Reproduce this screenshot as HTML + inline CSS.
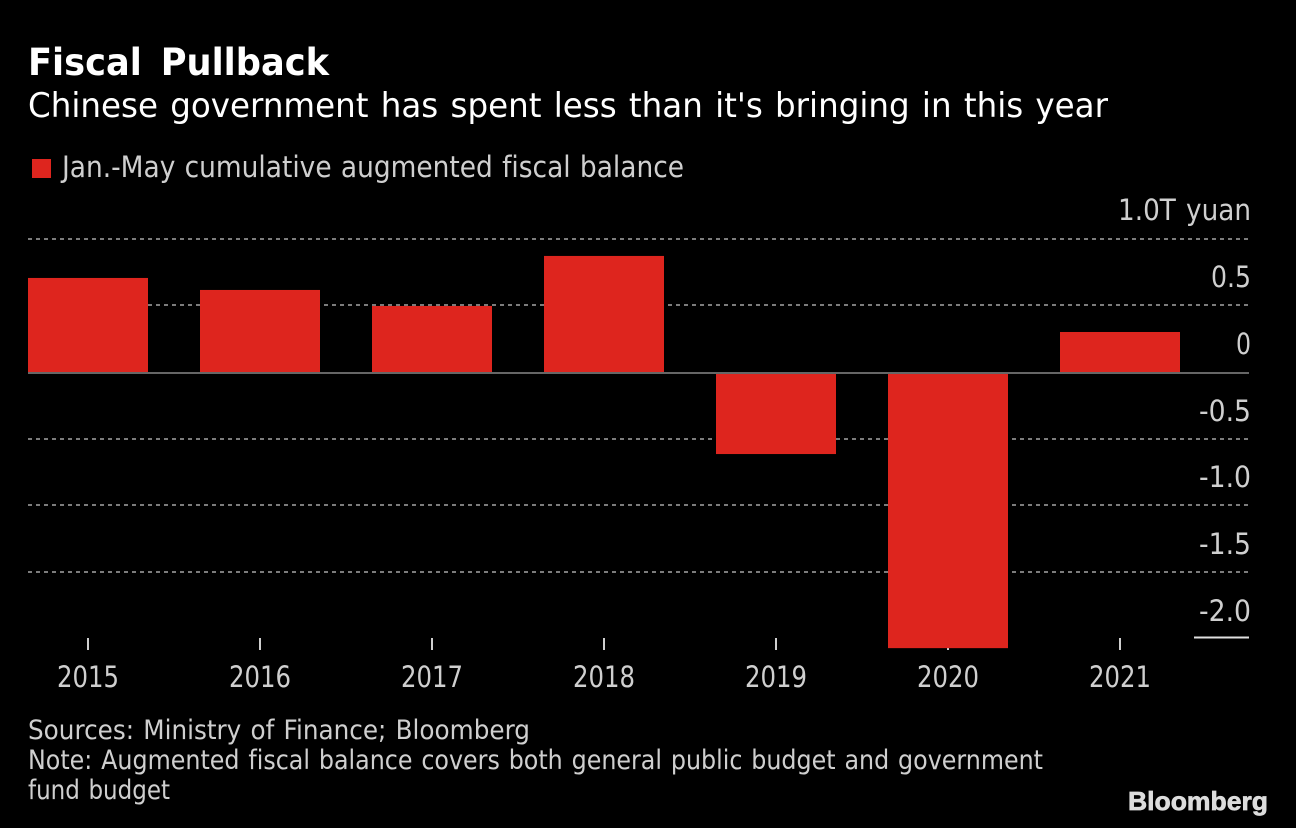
<!DOCTYPE html>
<html lang="en">
<head>
<meta charset="utf-8">
<title>Fiscal Pullback</title>
<style>
html,body{margin:0;padding:0;background:#000;width:1296px;height:828px;overflow:hidden}
svg{display:block}
text{font-family:"DejaVu Sans","Liberation Sans",sans-serif;font-variant-ligatures:none}
</style>
</head>
<body>
<svg id="chart" xmlns="http://www.w3.org/2000/svg" width="1296" height="828" viewBox="0 0 1296 828">
  <rect x="0" y="0" width="1296" height="828" fill="#000"/>
  <text x="28" y="75" font-size="37" font-weight="700" fill="#fff" word-spacing="7" textLength="301" lengthAdjust="spacingAndGlyphs">Fiscal Pullback</text>
  <text x="28" y="117" font-size="34" fill="#fff" word-spacing="2" textLength="1080" lengthAdjust="spacingAndGlyphs">Chinese government has spent less than it's bringing in this year</text>
  <rect x="32" y="159" width="19" height="19" fill="#de251e"/>
  <text x="62" y="177" font-size="29" fill="#cfcfcf" word-spacing="1" textLength="622" lengthAdjust="spacingAndGlyphs">Jan.-May cumulative augmented fiscal balance</text>
  <g id="grid"></g>
  <g id="ticks"></g>
  <g id="bars"></g>
  <g id="axis"></g>
  <g id="labels"></g>
  <text x="28" y="739" font-size="27" fill="#cfcfcf" word-spacing="1.5" textLength="502" lengthAdjust="spacingAndGlyphs">Sources: Ministry of Finance; Bloomberg</text>
  <text x="28" y="769" font-size="27" fill="#cfcfcf" word-spacing="1.5" textLength="1015" lengthAdjust="spacingAndGlyphs">Note: Augmented fiscal balance covers both general public budget and government</text>
  <text x="28" y="799" font-size="27" fill="#cfcfcf" word-spacing="1.5" textLength="142" lengthAdjust="spacingAndGlyphs">fund budget</text>
  <text x="1128" y="810" font-size="26" font-weight="700" fill="#dcdcdc" stroke="#dcdcdc" stroke-width="0.7" style="font-family:'Liberation Sans',sans-serif" textLength="140" lengthAdjust="spacingAndGlyphs">Bloomberg</text>
</svg>
<script>
const categories = ['2015', '2016', '2017', '2018', '2019', '2020', '2021'];
const seriesValues = [0.705, 0.615, 0.495, 0.87, -0.615, -2.07, 0.30];
const gridValues = [1.0, 0.5, -0.5, -1.0, -1.5];
const tickValues = [0.5, 0, -0.5, -1.0, -1.5, -2.0];
const tickLabels = ['0.5', '0', '-0.5', '-1.0', '-1.5', '-2.0'];
const topTickValue = 1.0;
const topTickLabel = '1.0T yuan';

const NS = 'http://www.w3.org/2000/svg';
const yScale = v => 372 - v * 133.4;
const xCenter = i => 88 + i * 172;
const BAR_W = 120;
const RIGHT = 1249;

function mk(tag, parent, attrs) {
  const el = document.createElementNS(NS, tag);
  for (const k in attrs) el.setAttribute(k, attrs[k]);
  parent.appendChild(el);
  return el;
}

const gridG = document.getElementById('grid');
gridValues.forEach(v => {
  const y = Math.round(yScale(v));
  const l = mk('line', gridG, {x1: 28, x2: RIGHT, y1: y, y2: y, stroke: '#7c7c7c', 'stroke-width': 2, 'stroke-dasharray': '4 4'});
  
  
});

const ticksG = document.getElementById('ticks');
const barsG = document.getElementById('bars');
const labelsG = document.getElementById('labels');

categories.forEach((c, i) => {
  const t = mk('line', ticksG, {x1: xCenter(i), x2: xCenter(i), y1: 638, y2: 650, stroke: '#cfcfcf', 'stroke-width': 2});
  
  

  const v = seriesValues[i];
  const y0 = yScale(0), y1 = yScale(v);
  const b = mk('rect', barsG, {x: xCenter(i) - BAR_W / 2, y: Math.min(y0, y1), width: BAR_W, height: Math.abs(y1 - y0), fill: '#de251e'});
  
  

  const lab = mk('text', labelsG, {x: xCenter(i), y: 687, 'font-size': 29, fill: '#cfcfcf', 'text-anchor': 'middle', textLength: 62, lengthAdjust: 'spacingAndGlyphs'});
  lab.textContent = c;
  
  
});

const axisG = document.getElementById('axis');
const zero = mk('line', axisG, {x1: 28, x2: RIGHT, y1: yScale(0) + 1, y2: yScale(0) + 1, stroke: '#666', 'stroke-width': 2});


const bottom = mk('line', axisG, {x1: 1194, x2: RIGHT, y1: 637.5, y2: 637.5, stroke: '#e0e0e0', 'stroke-width': 2});



const widths = {'0.5': 40, '0': 15, '-0.5': 52, '-1.0': 52, '-1.5': 52, '-2.0': 52};
tickValues.forEach((v, i) => {
  const s = tickLabels[i];
  const t = mk('text', labelsG, {x: RIGHT + 2, y: Math.round(yScale(v)) - 18, 'font-size': 29, fill: '#cfcfcf', 'text-anchor': 'end'});
  t.textContent = s;
  t.setAttribute('textLength', widths[s]);
  t.setAttribute('lengthAdjust', 'spacingAndGlyphs');
  
  
});
const top1 = mk('text', labelsG, {x: RIGHT + 2, y: Math.round(yScale(topTickValue)) - 19, 'font-size': 29, fill: '#cfcfcf', 'text-anchor': 'end', 'word-spacing': 2, textLength: 133, lengthAdjust: 'spacingAndGlyphs'});
top1.textContent = topTickLabel;


</script>
</body>
</html>
